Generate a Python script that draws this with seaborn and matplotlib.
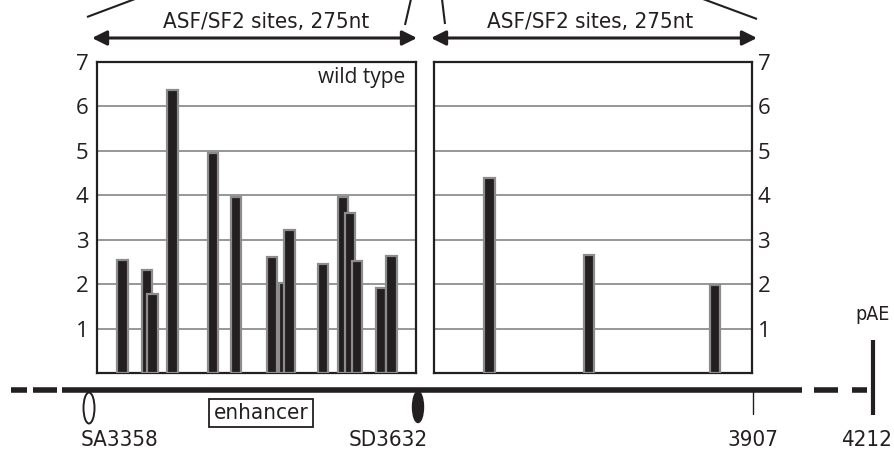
import matplotlib
matplotlib.use("Agg")
import matplotlib.pyplot as plt
import seaborn as sns
import pandas as pd
import numpy as np
from matplotlib.patches import Ellipse, FancyArrowPatch
from matplotlib import font_manager

# ASF/SF2 site scores, positions are nt offsets inside each 275nt window
left_pos = [22, 43, 48, 65, 100, 120, 151, 161, 166, 195, 212, 218, 224, 245, 254]
left_score = [2.55, 2.32, 1.78, 6.37, 4.95, 3.96, 2.61, 2.03, 3.22, 2.45, 3.96, 3.60, 2.52, 1.91, 2.63]
right_pos = [48, 134, 243]
right_score = [4.39, 2.66, 1.98]
y_ticks = [1, 2, 3, 4, 5, 6, 7]
window_nt = 275
site_nt = 9

top_label = "ASF/SF2 sites, 275nt"
panel_label = "wild type"
site_labels = ["SA3358", "SD3632", "3907", "4212"]

sns.set_theme(style="white")
fonts = font_manager.fontManager.ttflist
names = {f.name for f in fonts}
plain = "Open Sans" if "Open Sans" in names else "DejaVu Sans"
plt.rcParams["font.family"] = [plain, "DejaVu Sans"]

# a regular-weight condensed face for the diagram labels, if one is installed
narrow = None
for f in sorted(fonts, key=lambda f: f.fname):
    is_narrow = f.stretch in ("condensed", "semi-condensed", "extra-condensed") \
        or "Narrow" in f.name or "Condensed" in f.name
    is_regular = f.weight in (400, "normal", "regular", "book") and f.style == "normal"
    if is_narrow and is_regular:
        narrow = f
        break
if narrow is not None:
    lab_kw = dict(fontproperties=font_manager.FontProperties(fname=narrow.fname, size=16))
    small_kw = dict(fontproperties=font_manager.FontProperties(fname=narrow.fname, size=14))
else:
    lab_kw = dict(fontsize=13, family="DejaVu Sans")
    small_kw = dict(fontsize=12, family="DejaVu Sans")

W, H = 895, 454
fig = plt.figure(figsize=(W / 100, H / 100), dpi=100)


def px_axes(x0, y0, x1, y1):
    return fig.add_axes([x0 / W, 1 - y1 / H, (x1 - x0) / W, (y1 - y0) / H])


ax1 = px_axes(97, 62, 416, 373)
ax2 = px_axes(434, 62, 752, 373)

bar_kw = dict(color="#231f20", edgecolor="#8c8c8c", linewidth=1.6, saturation=1,
              errorbar=None, native_scale=True, zorder=3)
for ax, pos, score in [(ax1, left_pos, left_score), (ax2, right_pos, right_score)]:
    df = pd.DataFrame({"pos": pos, "score": score})
    w = site_nt / np.min(np.diff(sorted(pos)))
    sns.barplot(data=df, x="pos", y="score", ax=ax, width=w, **bar_kw)
    ax.set_xlim(0, window_nt)
    ax.set_ylim(0, 7)
    ax.set_xticks([])
    ax.set_yticks(y_ticks)
    ax.set_xlabel("")
    ax.set_ylabel("")
    for yv in y_ticks[:-1]:
        ax.axhline(yv, color="#7a7a7a", lw=1.1, zorder=1)
    for s in ax.spines.values():
        s.set_visible(True)
        s.set_color("#231f20")
        s.set_linewidth(1.6)
    ax.tick_params(axis="y", length=0, labelsize=16, pad=6, colors="#231f20")

ax2.yaxis.tick_right()
ax2.tick_params(axis="y", length=0, pad=4)
ax1.text(0.965, 0.95, panel_label, transform=ax1.transAxes, ha="right", va="center",
         fontsize=15, color="#231f20")

# overlay in pixel coordinates for the diagram
ov = fig.add_axes([0, 0, 1, 1])
ov.set_xlim(0, W)
ov.set_ylim(H, 0)
ov.axis("off")
ov.patch.set_alpha(0)
ink = "#231f20"

for x0, x1, xc in [(92, 417, 266), (431, 757, 590)]:
    ov.add_patch(FancyArrowPatch((x0, 38), (x1, 38), arrowstyle="<|-|>", mutation_scale=22,
                                 lw=2.2, color=ink, shrinkA=0, shrinkB=0))
    ov.text(xc, 22, top_label, ha="center", va="center", color=ink, **lab_kw)

for (xa, ya), (xb, yb) in [((87, 17), (135, -1)), ((405, 25), (411, -1)),
                           ((445, 24), (442, -1)), ((757, 19), (703, -1))]:
    ov.plot([xa, xb], [ya, yb], color=ink, lw=1.5, solid_capstyle="butt")

for xa, xb in [(11, 27), (33, 57), (62, 802), (814, 838), (852, 867)]:
    ov.plot([xa, xb], [390, 390], color=ink, lw=4, solid_capstyle="butt")
ov.plot([873, 873], [340, 415], color=ink, lw=3, solid_capstyle="butt")
ov.plot([753, 753], [392, 414], color=ink, lw=1)

ov.add_patch(Ellipse((89, 408), 11, 31, facecolor="white", edgecolor=ink, lw=1.4))
ov.add_patch(Ellipse((418, 407), 11, 31, facecolor=ink, edgecolor=ink, lw=1))

ov.text(261, 413, "enhancer", ha="center", va="center", color=ink,
        bbox=dict(boxstyle="square,pad=0.2", facecolor="white", edgecolor=ink, lw=1.3), **lab_kw)
ov.text(873, 315, "pAE", ha="center", va="center", color=ink, **small_kw)
for label, xc, ha in zip(site_labels, [120, 388, 753, 892], ["center", "center", "center", "right"]):
    ov.text(xc, 440, label, ha=ha, va="center", color=ink, **lab_kw)

fig.savefig("out.png", dpi=100)
